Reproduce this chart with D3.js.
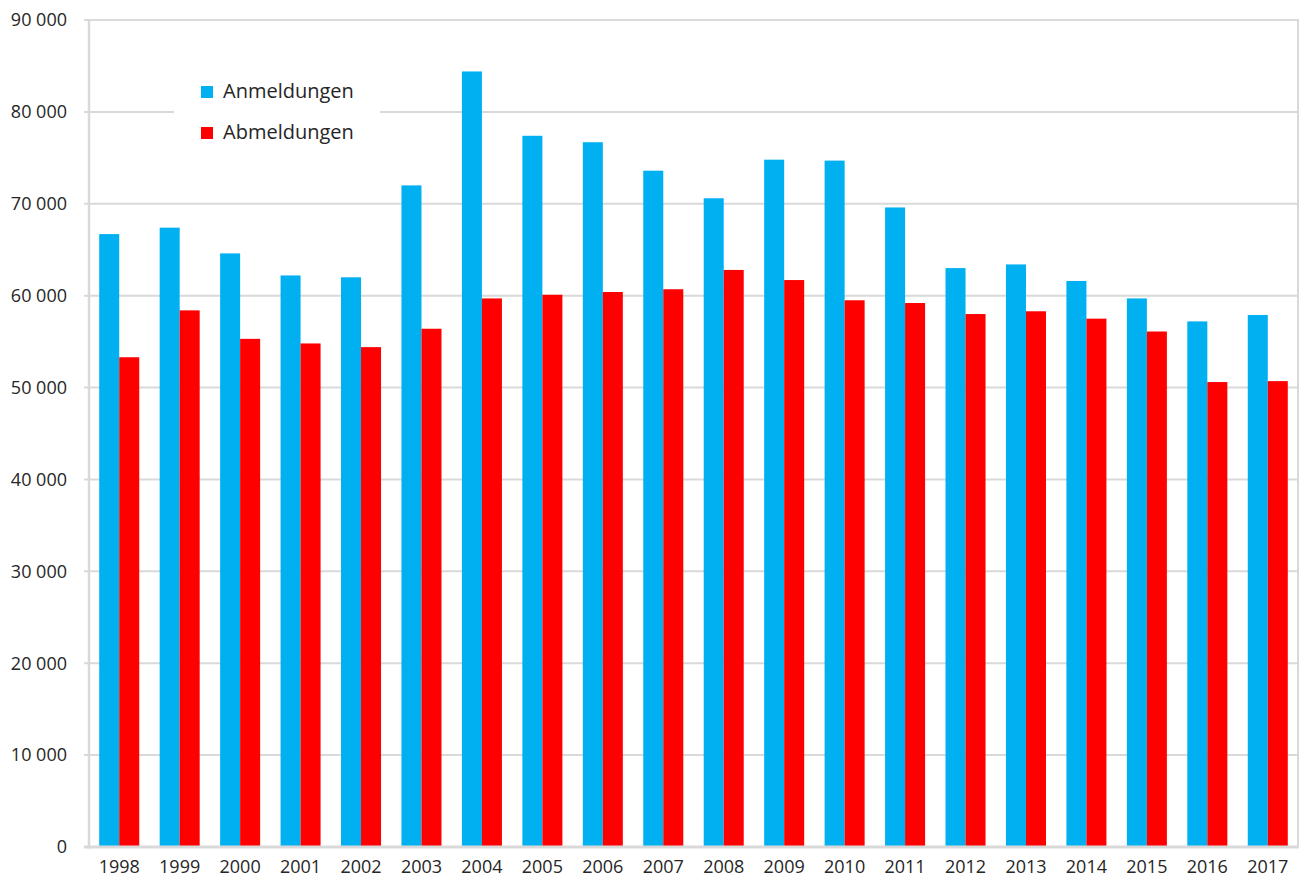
<!DOCTYPE html>
<html><head><meta charset="utf-8">
<script src="https://cdn.jsdelivr.net/npm/d3@7"></script>
<style>body{margin:0;background:#fff;} svg{display:block;} text{font-family:"Open Sans","Noto Sans",sans-serif;fill:#262626;}</style>
</head><body>
<svg id="c" width="1301" height="879"></svg>
<script>
const years = ["1998","1999","2000","2001","2002","2003","2004","2005","2006","2007","2008","2009","2010","2011","2012","2013","2014","2015","2016","2017"];
const anmeldungen = [66700,67400,64600,62200,62000,72000,84400,77400,76700,73600,70600,74800,74700,69600,63000,63400,61600,59700,57200,57900];
const abmeldungen = [53300,58400,55300,54800,54400,56400,59700,60100,60400,60700,62800,61700,59500,59200,58000,58300,57500,56100,50600,50700];
const seriesNames = ["Anmeldungen","Abmeldungen"];
const colors = ["#00B0F0","#FF0000"];
const yTicks = [0,10000,20000,30000,40000,50000,60000,70000,80000,90000];

const svg = d3.select("#c");
const L = 89, R = 1298, T = 20, B = 847;
const x0 = d3.scaleBand().domain(years).range([L,R]).paddingInner(0.338).paddingOuter(0.169);
const x1 = d3.scaleBand().domain(seriesNames).range([0,x0.bandwidth()]);
const y = d3.scaleLinear().domain([0,90000]).range([B,T]);
const fmt = v => d3.format(",")(v).replace(/,/g," ");

// gridlines
svg.append("g").selectAll("line").data(yTicks.filter(d=>d>0)).join("line")
  .attr("x1",L-5).attr("x2",R).attr("y1",d=>y(d)).attr("y2",d=>y(d))
  .attr("stroke","#d9d9d9").attr("stroke-width",2);
// right border
svg.append("line").attr("x1",R).attr("x2",R).attr("y1",T-1).attr("y2",B).attr("stroke","#d9d9d9").attr("stroke-width",2);

// bars
const data = years.map((yr,i)=>({yr, vals:[anmeldungen[i],abmeldungen[i]]}));
const g = svg.append("g").selectAll("g").data(data).join("g").attr("transform",d=>`translate(${x0(d.yr)},0)`);
g.selectAll("rect").data(d=>d.vals.map((v,k)=>({k,v}))).join("rect")
  .attr("x",d=>x1(seriesNames[d.k])).attr("width",x1.bandwidth())
  .attr("y",d=>y(d.v)).attr("height",d=>B-y(d.v)).attr("fill",d=>colors[d.k]);

// axes lines
svg.append("line").attr("x1",L).attr("x2",L).attr("y1",T-1).attr("y2",B+1.5).attr("stroke","#d9d9d9").attr("stroke-width",2.5);
svg.append("line").attr("x1",L-5).attr("x2",R+1).attr("y1",B).attr("y2",B).attr("stroke","#d9d9d9").attr("stroke-width",3);

// y labels
svg.append("g").selectAll("text").data(yTicks).join("text")
  .attr("x",67).attr("y",d=>y(d)).attr("dy","0.35em").attr("text-anchor","end")
  .attr("font-size",18).text(fmt);
// x labels
svg.append("g").selectAll("text").data(years).join("text")
  .attr("x",d=>x0(d)+x0.bandwidth()/2).attr("y",873).attr("text-anchor","middle")
  .attr("font-size",18).text(d=>d);

// legend
const lg = svg.append("g");
lg.append("rect").attr("x",174).attr("y",70).attr("width",206).attr("height",80).attr("fill","#fff");
seriesNames.forEach((n,i)=>{
  const yy = 86 + i*41;
  lg.append("rect").attr("x",201).attr("y",yy).attr("width",12).attr("height",12).attr("fill",colors[i]);
  lg.append("text").attr("x",223).attr("y",yy+12).attr("font-size",20).text(n);
});
</script>
</body></html>
